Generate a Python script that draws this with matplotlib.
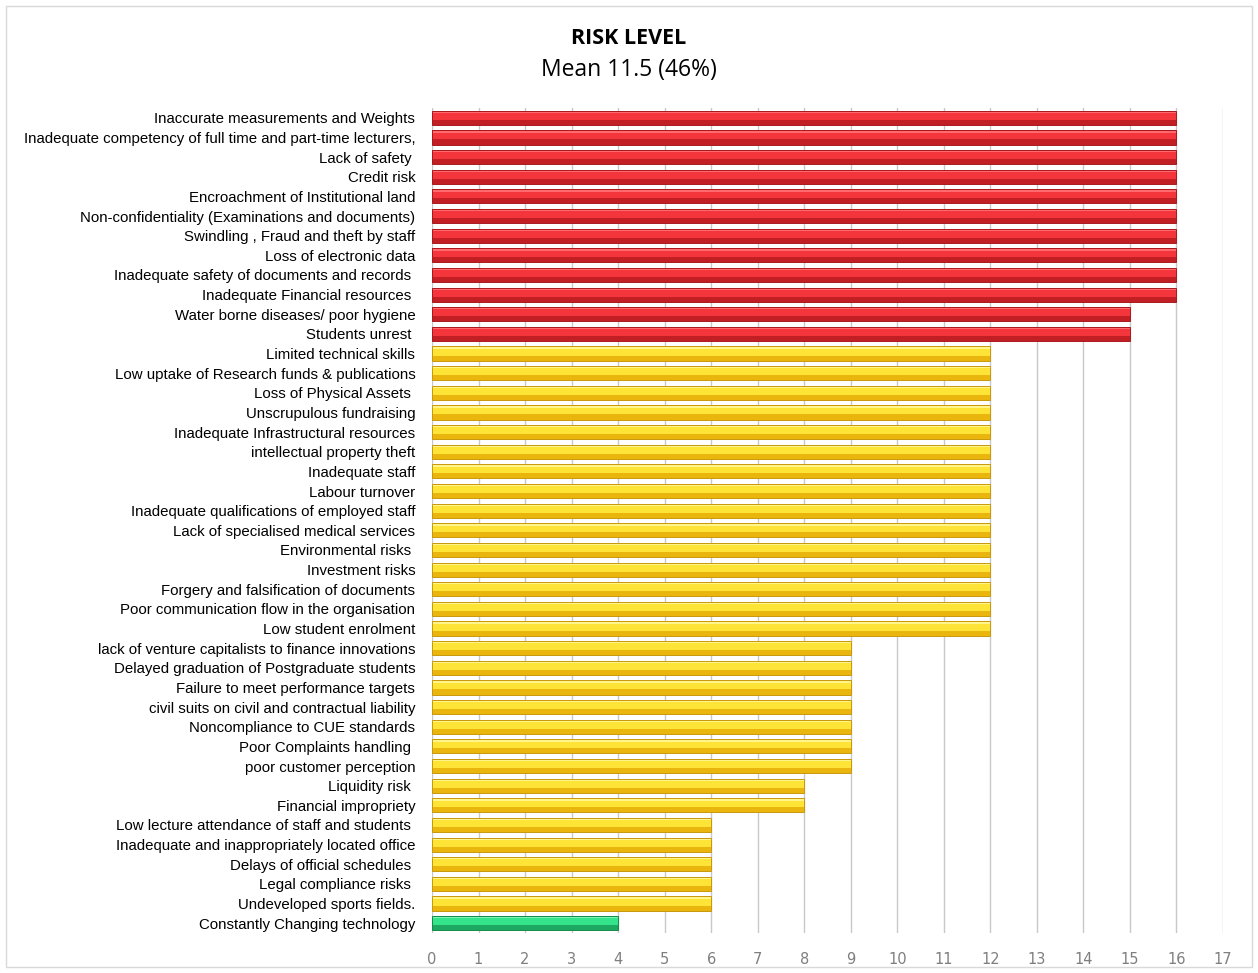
import matplotlib
matplotlib.use("Agg")
import matplotlib.pyplot as plt
from matplotlib.patches import Rectangle

categories = [
    "Inaccurate measurements and Weights",
    "Inadequate competency of full time and part-time lecturers,",
    "Lack of safety ",
    "Credit risk",
    "Encroachment of Institutional land",
    "Non-confidentiality (Examinations and documents)",
    "Swindling , Fraud and theft by staff",
    "Loss of electronic data",
    "Inadequate safety of documents and records ",
    "Inadequate Financial resources ",
    "Water borne diseases/ poor hygiene",
    "Students unrest ",
    "Limited technical skills",
    "Low uptake of Research funds & publications",
    "Loss of Physical Assets ",
    "Unscrupulous fundraising",
    "Inadequate Infrastructural resources",
    "intellectual property theft",
    "Inadequate staff",
    "Labour turnover",
    "Inadequate qualifications of employed staff",
    "Lack of specialised medical services",
    "Environmental risks ",
    "Investment risks",
    "Forgery and falsification of documents",
    "Poor communication flow in the organisation",
    "Low student enrolment",
    "lack of venture capitalists to finance innovations",
    "Delayed graduation of Postgraduate students",
    "Failure to meet performance targets",
    "civil suits on civil and contractual liability",
    "Noncompliance to CUE standards",
    "Poor Complaints handling ",
    "poor customer perception",
    "Liquidity risk ",
    "Financial impropriety",
    "Low lecture attendance of staff and students ",
    "Inadequate and inappropriately located office",
    "Delays of official schedules ",
    "Legal compliance risks ",
    "Undeveloped sports fields.",
    "Constantly Changing technology",
]
values = [16, 16, 16, 16, 16, 16, 16, 16, 16, 16, 15, 15,
          12, 12, 12, 12, 12, 12, 12, 12, 12, 12, 12, 12, 12, 12, 12,
          9, 9, 9, 9, 9, 9, 9, 8, 8, 6, 6, 6, 6, 6, 4]
levels = ["high"] * 12 + ["medium"] * 29 + ["low"]

palette = {
    "high":   {"main": "#f4363c", "light": "#ff6a6e", "dark": "#c21f25", "edge": "#a8181c"},
    "medium": {"main": "#ffe438", "light": "#fff58c", "dark": "#eab60e", "edge": "#c9980a"},
    "low":    {"main": "#33e48a", "light": "#7cf5b4", "dark": "#1ca860", "edge": "#138a48"},
}

fig = plt.figure(figsize=(12.58, 9.73), dpi=100)
plt.rcParams['font.family'] = ['Liberation Sans', 'DejaVu Sans']
ax = fig.add_axes([0.3434, 0.0411, 0.9722 - 0.3434, 0.889 - 0.0411])
ax.set_axisbelow(True)

n = len(categories)
ypos = list(range(n))
h = 0.72
main_c = [palette[l]["main"] for l in levels]
light_c = [palette[l]["light"] for l in levels]
dark_c = [palette[l]["dark"] for l in levels]
edge_c = [palette[l]["edge"] for l in levels]

# base bar
ax.barh(ypos, values, height=h, color=main_c, linewidth=0, zorder=3)
# lower darker band (y increases downward after invert)
ax.barh([y + h * 0.32 for y in ypos], values, height=h * 0.36, color=dark_c, linewidth=0, zorder=4)
# upper highlight strip
ax.barh([y - h * 0.40 for y in ypos], values, height=h * 0.12, color=light_c, linewidth=0, zorder=4)
# outline
ax.barh(ypos, values, height=h, facecolor="none", edgecolor=edge_c, linewidth=0.7, zorder=5)

ax.set_ylim(n - 0.5, -0.5)
ax.set_xlim(0, 17)
ax.set_xticks(range(0, 18))
ax.set_yticks(ypos)
ax.set_yticklabels(categories, fontsize=10.8, color="#000000")
ax.tick_params(axis="y", length=0, pad=12)
ax.tick_params(axis="x", length=0, pad=14, labelsize=10.5, labelcolor="#7f7f7f")
for lbl in ax.get_xticklabels():
    lbl.set_family(["DejaVu Sans"])
ax.grid(axis="x", color="#c8c8c8", linewidth=1.0)
for s in ax.spines.values():
    s.set_visible(False)

fig.text(0.5, 1 - 38 / 973, "RISK LEVEL", ha="center", va="center",
         fontsize=15.5, fontweight="bold", family=["Open Sans", "DejaVu Sans"])
fig.text(0.5, 1 - 70 / 973, "Mean 11.5 (46%)", ha="center", va="center",
         fontsize=16.5, family=["Open Sans", "DejaVu Sans"])

fig.patches.append(Rectangle((6 / 1258, 6 / 973), 1 - 12 / 1258, 1 - 12 / 973,
                             transform=fig.transFigure, fill=False,
                             edgecolor="#d9d9d9", linewidth=1.0))

fig.savefig("out.png", dpi=100, facecolor="white")
